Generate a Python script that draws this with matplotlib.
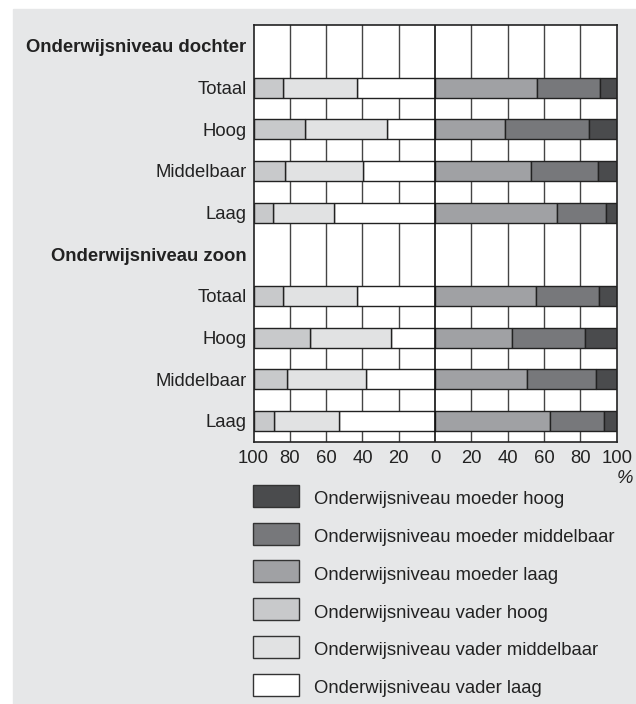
import numpy as np
import matplotlib
matplotlib.use('Agg')
import matplotlib.pyplot as plt
from matplotlib.patches import Rectangle

plt.rcParams['font.family'] = ['Liberation Sans', 'DejaVu Sans']

# categorieën
groepen = ['Onderwijsniveau dochter', 'Onderwijsniveau zoon']
niveaus = ['Totaal', 'Hoog', 'Middelbaar', 'Laag']

# dochter (%)
d_vader_hoog = [16.5, 28.6, 17.2, 10.6]
d_vader_midd = [40.3, 44.8, 43.1, 33.9]
d_vader_laag = [43.2, 26.6, 39.7, 55.5]
d_moeder_laag = [56.0, 38.6, 52.9, 67.0]
d_moeder_midd = [34.7, 46.0, 36.7, 27.3]
d_moeder_hoog = [9.3, 15.4, 10.4, 5.7]

# zoon (%)
z_vader_hoog = [16.5, 31.0, 18.3, 11.4]
z_vader_midd = [40.3, 44.5, 43.8, 35.5]
z_vader_laag = [43.2, 24.5, 37.9, 53.1]
z_moeder_laag = [55.5, 42.1, 50.7, 63.4]
z_moeder_midd = [34.6, 40.5, 37.9, 29.8]
z_moeder_hoog = [9.9, 17.4, 11.4, 6.8]

legend_labels = [
    'Onderwijsniveau moeder hoog',
    'Onderwijsniveau moeder middelbaar',
    'Onderwijsniveau moeder laag',
    'Onderwijsniveau vader hoog',
    'Onderwijsniveau vader middelbaar',
    'Onderwijsniveau vader laag',
]

C_M_HOOG = '#4a4b4d'
C_M_MIDD = '#77787b'
C_M_LAAG = '#a0a1a4'
C_V_HOOG = '#c8c9cb'
C_V_MIDD = '#e1e2e3'
C_V_LAAG = '#ffffff'
BG = '#e6e7e8'
EDGE = '#222222'
FS = 13.3

W, H = 636, 704
fig = plt.figure(figsize=(W / 100, H / 100), dpi=100)
fig.patch.set_facecolor('white')
fig.add_artist(Rectangle((13 / W, 0), 1 - 13 / W, 1 - 9 / H,
                         transform=fig.transFigure, color=BG, zorder=-5))

ax = fig.add_axes([253.5 / W, 1 - 441.7 / H, (616.7 - 253.5) / W,
                   (441.7 - 25) / H])
ax.set_facecolor('white')

# rijen: kop 0, dochter 1-4, kop 5, zoon 6-9
y_d = np.arange(1, 5)
y_z = np.arange(6, 10)
bh = 0.48


def teken(y, vh, vm, vl, ml, mm, mh):
    vh, vm, vl = map(np.array, (vh, vm, vl))
    ml, mm, mh = map(np.array, (ml, mm, mh))
    kw = dict(height=bh, edgecolor=EDGE, linewidth=1.0, zorder=3)
    ax.barh(y, vl, left=-vl, color=C_V_LAAG, **kw)
    ax.barh(y, vm, left=-(vl + vm), color=C_V_MIDD, **kw)
    ax.barh(y, vh, left=-(vl + vm + vh), color=C_V_HOOG, **kw)
    ax.barh(y, ml, left=0, color=C_M_LAAG, **kw)
    ax.barh(y, mm, left=ml, color=C_M_MIDD, **kw)
    ax.barh(y, mh, left=ml + mm, color=C_M_HOOG, **kw)


teken(y_d, d_vader_hoog, d_vader_midd, d_vader_laag,
      d_moeder_laag, d_moeder_midd, d_moeder_hoog)
teken(y_z, z_vader_hoog, z_vader_midd, z_vader_laag,
      z_moeder_laag, z_moeder_midd, z_moeder_hoog)

ax.set_xlim(-100, 100)
ax.set_ylim(9.5, -0.5)

for x in [-80, -60, -40, -20, 20, 40, 60, 80]:
    ax.axvline(x, color='#444444', lw=1.0, zorder=1)
ax.axvline(0, color='#111111', lw=1.2, zorder=4)

for s in ax.spines.values():
    s.set_color('#222222')
    s.set_linewidth(1.2)
    s.set_zorder(5)

yt = [0] + list(y_d) + [5] + list(y_z)
yl = [groepen[0]] + niveaus + [groepen[1]] + niveaus
ax.set_yticks(yt)
ax.set_yticklabels(yl, fontsize=FS, color='#222222')
for i in (0, 5):
    ax.get_yticklabels()[i].set_fontweight('bold')
ax.tick_params(axis='y', length=0, pad=5)

xt = np.arange(-100, 101, 20)
ax.set_xticks(xt)
ax.set_xticklabels([str(abs(v)) for v in xt], fontsize=FS, color='#222222')
ax.tick_params(axis='x', length=0, pad=6)
ax.text(1.045, -0.088, '%', transform=ax.transAxes, fontsize=FS,
        style='italic', ha='right', va='center', color='#222222')

# legenda
lax = fig.add_axes([0, 0, 1, 1], zorder=-1)
lax.set_xlim(0, W)
lax.set_ylim(H, 0)
lax.axis('off')
kleuren = [C_M_HOOG, C_M_MIDD, C_M_LAAG, C_V_HOOG, C_V_MIDD, C_V_LAAG]
for i, (lab, c) in enumerate(zip(legend_labels, kleuren)):
    top = 485 + i * 37.7
    lax.add_patch(Rectangle((253, top), 46, 22, facecolor=c,
                            edgecolor='#333333', lw=1.0))
    lax.text(314, top + 15, lab, fontsize=FS, va='center', ha='left',
             color='#222222')

fig.savefig('out.png', dpi=100)
